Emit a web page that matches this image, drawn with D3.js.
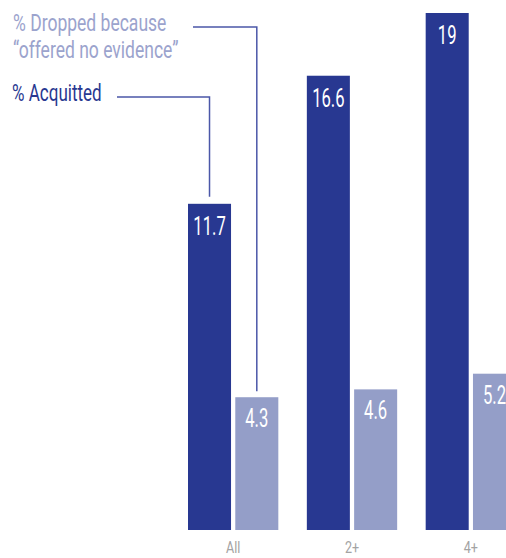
<!DOCTYPE html>
<html>
<head>
<meta charset="utf-8">
<script src="https://cdn.jsdelivr.net/npm/d3@7"></script>
<style>
  html, body { margin: 0; padding: 0; background: #ffffff; }
  svg { display: block; }
  text { font-family: Roboto, "Liberation Sans", sans-serif; }
</style>
</head>
<body>
<script>
// Prosecution outcomes by number of previous offences
const categories = ["All", "2+", "4+"];
const seriesKeys = ["acquitted", "dropped"];
const seriesLabels = ["% Acquitted", "% Dropped because", "“offered no evidence”"];
const acquitted = [11.7, 16.6, 19];
const dropped = [4.3, 4.6, 5.2];

const W = 506, H = 558;
const colors = { acquitted: "#283891", dropped: "#949ec8" };
const lineColor = "#4b57a8";

const rows = categories.map((c, i) => ({ cat: c, acquitted: acquitted[i], dropped: dropped[i] }));

const svg = d3.select("body").append("svg")
  .attr("width", W).attr("height", H);

// group and sub-group scales
const x0 = d3.scaleBand().domain(categories).range([188, 516]).paddingInner(0.24).paddingOuter(0);
const x1 = d3.scaleBand().domain(seriesKeys).range([0, x0.bandwidth()]).paddingInner(0.09);
const y = d3.scaleLinear().domain([-0.78, 19]).range([530, 13]);
const base = y(y.domain()[0]);

const groups = svg.append("g").selectAll("g").data(rows).join("g")
  .attr("transform", d => `translate(${x0(d.cat)},0)`);

groups.selectAll("rect")
  .data(d => seriesKeys.map(k => ({ key: k, value: d[k] })))
  .join("rect")
  .attr("x", d => x1(d.key))
  .attr("y", d => y(d.value))
  .attr("width", x1.bandwidth())
  .attr("height", d => base - y(d.value))
  .attr("fill", d => colors[d.key]);

// value labels, condensed white figures inside each bar top
groups.selectAll("g.val")
  .data(d => seriesKeys.map(k => ({ key: k, value: d[k] })))
  .join("g")
  .attr("class", "val")
  .attr("transform", d => `translate(${x1(d.key) + x1.bandwidth() / 2},${y(d.value) + (d.key === "acquitted" ? 31 : 30)}) scale(0.64,1)`)
  .append("text")
  .attr("text-anchor", "middle")
  .attr("fill", "#ffffff")
  .attr("font-size", 26)
  .text(d => d3.format("~g")(d.value));

// category axis labels
const xAxis = d3.axisBottom(x0).tickSize(0).tickPadding(0);
const axisG = svg.append("g").attr("transform", `translate(0,${base})`).call(xAxis);
axisG.select(".domain").remove();
axisG.selectAll(".tick text")
  .attr("y", 23)
  .attr("dy", 0)
  .attr("fill", "#a3a3a3")
  .attr("font-size", 17)
  .attr("font-family", "Roboto, sans-serif")
  .attr("transform", "scale(0.74,1)");

// legend text with leader lines to the first group
function condensedText(xp, yp, str, fill, size, sx) {
  svg.append("g").attr("transform", `translate(${xp},${yp}) scale(${sx},1)`)
    .append("text").attr("fill", fill).attr("font-size", size).text(str);
}
condensedText(13, 31, seriesLabels[1], "#9ba3cd", 24, 0.73);
condensedText(13, 58, seriesLabels[2], "#9ba3cd", 24, 0.73);
condensedText(12, 101, seriesLabels[0], colors.acquitted, 24, 0.71);

const cx = k => x0(categories[0]) + x1(k) + x1.bandwidth() / 2;
const lead = d3.path();
lead.moveTo(193, 27); lead.lineTo(cx("dropped"), 27); lead.lineTo(cx("dropped"), y(dropped[0]) - 6);
lead.moveTo(117, 97); lead.lineTo(cx("acquitted"), 97); lead.lineTo(cx("acquitted"), y(acquitted[0]) - 7);
svg.append("path").attr("d", lead.toString())
  .attr("fill", "none").attr("stroke", lineColor).attr("stroke-width", 1.5);
</script>
</body>
</html>
